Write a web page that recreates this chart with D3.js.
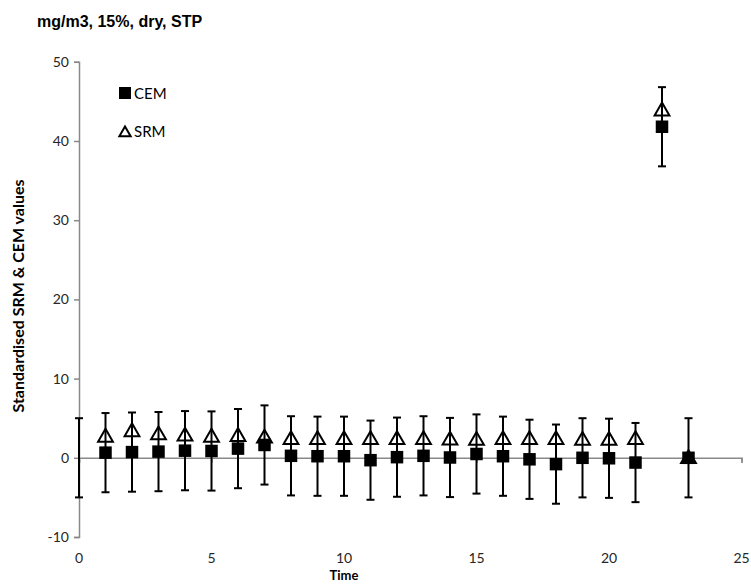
<!DOCTYPE html>
<html>
<head>
<meta charset="utf-8">
<script src="https://cdn.jsdelivr.net/npm/d3@7"></script>
<style>
  html, body { margin: 0; padding: 0; background: #fff; }
  svg { display: block; }
</style>
</head>
<body>
<svg id="chart" width="751" height="584"></svg>
<script>
// ---- data ----
const times = [1,2,3,4,5,6,7,8,9,10,11,12,13,14,15,16,17,18,19,20,21,22,23];
const cemValues = [0.65,0.72,0.78,0.9,0.86,1.16,1.62,0.25,0.2,0.2,-0.3,0.08,0.25,0.04,0.48,0.2,-0.19,-0.8,0.0,-0.06,-0.6,41.8,0.0];
const srmValues = [2.7,3.4,3.0,2.85,2.7,2.8,2.6,2.4,2.4,2.4,2.4,2.4,2.4,2.35,2.3,2.4,2.4,2.4,2.3,2.3,2.4,43.9,0.0];
const errorHalfWidth = 5;
// an error bar with no visible marker at time 0
const extraErrTimes = [0];
const extraErrCenters = [0];
const xTicks = [0,5,10,15,20,25];
const yTicks = [-10,0,10,20,30,40,50];
const seriesNames = ["CEM","SRM"];
const titleText = "mg/m3, 15%, dry, STP";
const yLabelText = "Standardised SRM & CEM values";
const xLabelText = "Time";

// ---- layout ----
const svg = d3.select("#chart");
const x = d3.scaleLinear().domain([0,25]).range([79, 741.5]);
const y = d3.scaleLinear().domain([-10,50]).range([537, 61.8]);
const axisColor = "#898989";
const tickFont = "Lato, 'Liberation Sans', sans-serif";

// title
svg.append("text").attr("x", 37).attr("y", 27)
  .attr("font-family", "'Liberation Sans', Arial, sans-serif")
  .attr("font-weight", "bold").attr("font-size", 16).attr("fill", "#000")
  .text(titleText);

// y axis
const yAxis = d3.axisLeft(y).tickValues(yTicks).tickSize(5).tickPadding(5).tickFormat(d => String(d));
const gy = svg.append("g").attr("transform", `translate(${x(0)},0)`).call(yAxis);
gy.select(".domain").attr("stroke", axisColor).attr("stroke-width", 1.5);
gy.selectAll(".tick line").attr("stroke", axisColor).attr("stroke-width", 1.5);
gy.selectAll(".tick text").attr("font-family", tickFont).attr("font-size", 14).attr("fill", "#262626");

// x axis line at y=0 with tick marks
const xAxis = d3.axisBottom(x).tickValues(xTicks).tickSize(5).tickFormat("");
const gx = svg.append("g").attr("transform", `translate(0,${y(0)})`).call(xAxis);
gx.select(".domain").attr("stroke", axisColor).attr("stroke-width", 1.5);
gx.selectAll(".tick line").attr("stroke", axisColor).attr("stroke-width", 1.5);

// x tick labels at bottom
svg.append("g").selectAll("text").data(xTicks).join("text")
  .attr("x", d => x(d)).attr("y", 563)
  .attr("text-anchor", "middle")
  .attr("font-family", tickFont).attr("font-size", 14).attr("fill", "#262626")
  .text(d => d);

// axis titles
svg.append("text").attr("x", x(10)).attr("y", 580)
  .attr("text-anchor", "middle")
  .attr("font-family", tickFont).attr("font-weight", "bold").attr("font-size", 13).attr("fill", "#000")
  .text(xLabelText);
svg.append("text")
  .attr("transform", "translate(24,296) rotate(-90)")
  .attr("text-anchor", "middle")
  .attr("font-family", tickFont).attr("font-weight", "bold").attr("font-size", 16).attr("fill", "#000")
  .text(yLabelText);

// data
const cemData = times.map((t,i) => ({t, v: cemValues[i]}));
const srmData = times.map((t,i) => ({t, v: srmValues[i]}));
const errData = extraErrTimes.map((t,i) => ({t, v: extraErrCenters[i]})).concat(cemData);

const triSym = d3.symbol().type(d3.symbolTriangle).size(95);
const sqSize = 12.5;

// SRM triangles (drawn first)
svg.append("g").selectAll("path").data(srmData).join("path")
  .attr("d", triSym)
  .attr("transform", d => `translate(${x(d.t)},${y(d.v) + 1})`)
  .attr("fill", d => d.t === 23 ? "#000" : "#fff")
  .attr("stroke", "#000").attr("stroke-width", 2);

// error bars on CEM
const eb = svg.append("g").attr("stroke", "#000").attr("stroke-width", 2);
eb.selectAll("line.v").data(errData).join("line").attr("class","v")
  .attr("x1", d => x(d.t)).attr("x2", d => x(d.t))
  .attr("y1", d => y(d.v + errorHalfWidth)).attr("y2", d => y(d.v - errorHalfWidth));
eb.selectAll("line.top").data(errData).join("line").attr("class","top")
  .attr("x1", d => x(d.t) - 4).attr("x2", d => x(d.t) + 4)
  .attr("y1", d => y(d.v + errorHalfWidth)).attr("y2", d => y(d.v + errorHalfWidth));
eb.selectAll("line.bot").data(errData).join("line").attr("class","bot")
  .attr("x1", d => x(d.t) - 4).attr("x2", d => x(d.t) + 4)
  .attr("y1", d => y(d.v - errorHalfWidth)).attr("y2", d => y(d.v - errorHalfWidth));

// CEM squares
svg.append("g").selectAll("rect").data(cemData).join("rect")
  .attr("x", d => x(d.t) - sqSize/2).attr("y", d => y(d.v) - sqSize/2)
  .attr("width", sqSize).attr("height", sqSize)
  .attr("fill", "#000");

// legend
const lg = svg.append("g");
lg.append("rect").attr("x", 119).attr("y", 87).attr("width", 12).attr("height", 12).attr("fill", "#000");
lg.append("text").attr("x", 134).attr("y", 98.5)
  .attr("font-family", tickFont).attr("font-size", 15).attr("fill", "#000").text(seriesNames[0]);
lg.append("path").attr("d", d3.symbol().type(d3.symbolTriangle).size(55))
  .attr("transform", "translate(125,133)")
  .attr("fill", "#fff").attr("stroke", "#000").attr("stroke-width", 2);
lg.append("text").attr("x", 134).attr("y", 137)
  .attr("font-family", tickFont).attr("font-size", 15).attr("fill", "#000").text(seriesNames[1]);
</script>
</body>
</html>
